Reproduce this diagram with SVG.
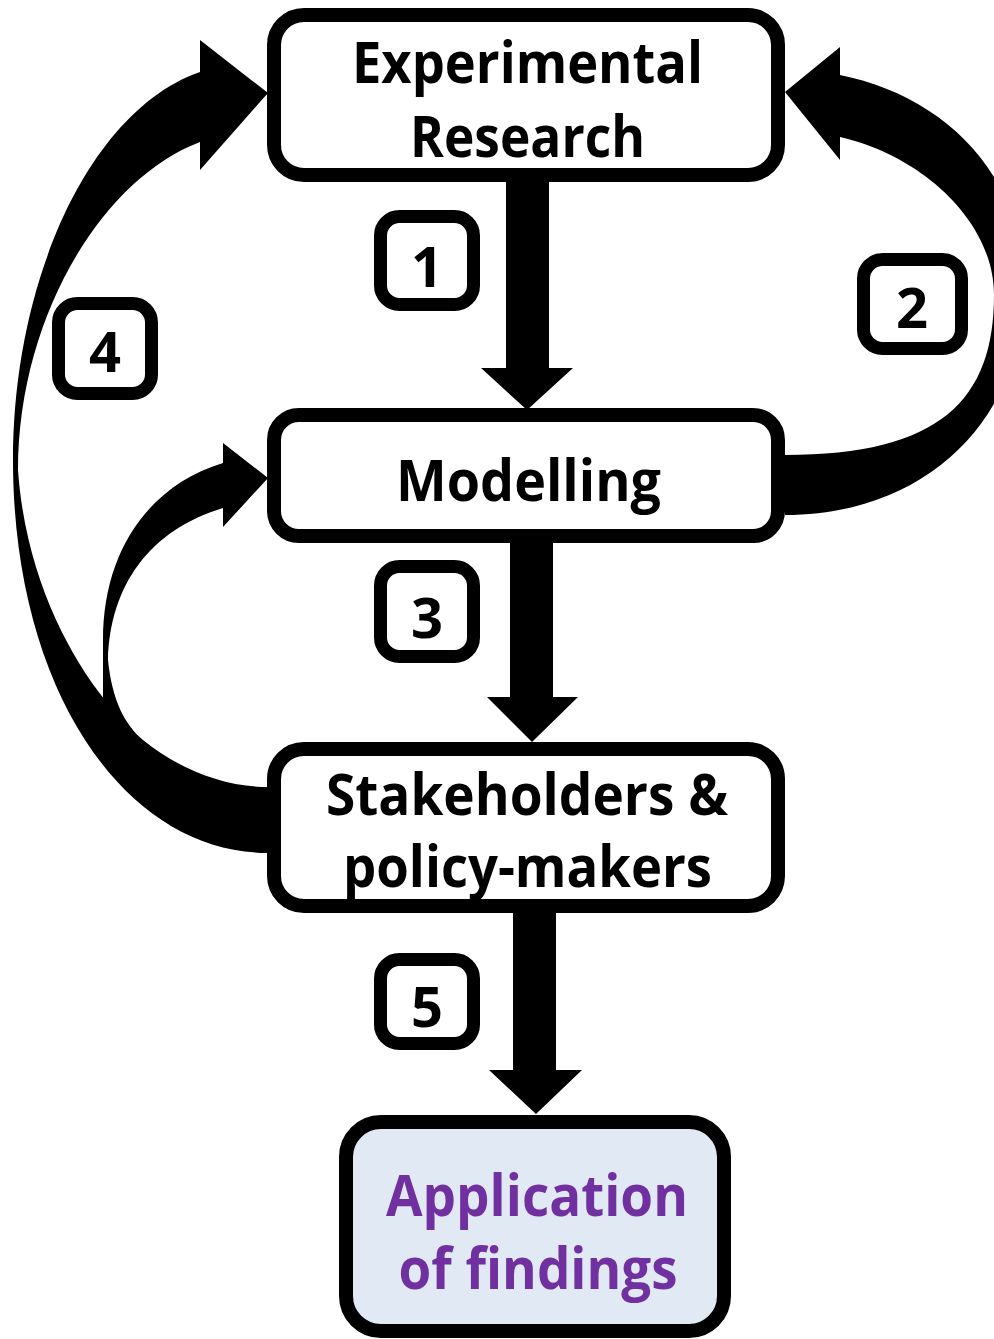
<svg xmlns="http://www.w3.org/2000/svg" width="994" height="1339" viewBox="0 0 994 1339">
<style>
.box{fill:#fff;stroke:#000;stroke-width:14}
.app{fill:#E1E9F4;stroke:#000;stroke-width:14}
.num{fill:#fff;stroke:#000;stroke-width:13}
.lbl{font-family:"Open Sans","Liberation Sans",sans-serif;font-weight:bold;font-size:58px;fill:#000;text-anchor:middle}
.purple{fill:#7030A0}
.digit{font-family:"Open Sans","Liberation Sans",sans-serif;font-weight:bold;font-size:56px;fill:#000;text-anchor:middle}
.arr{fill:#000;stroke:none}
</style>
<rect width="994" height="1339" fill="#fff"/>
<g id="connectors">
  <!-- 1: Experimental -> Modelling -->
  <polygon class="arr" points="506,180 549,180 549,368 573,368 527,410 481,368 506,368"/>
  <!-- 3: Modelling -> Stakeholders -->
  <polygon class="arr" points="510,540 553,540 553,697 578,697 532,742 487,697 510,697"/>
  <!-- 5: Stakeholders -> Application -->
  <polygon class="arr" points="513,910 556,910 556,1070 582,1070 536,1114 489,1070 513,1070"/>
  <!-- 2: Modelling -> Experimental (right curve) -->
  <path class="arr" d="M 840,75 L 840,47 L 785,92 L 840,160 L 840,137 C 920,155 994,220 994,295 C 994,400 940,455 785,455 L 785,515 C 930,515 1024,415 1024,288 C 1024,170 940,95 840,75 Z"/>
  <!-- 4: Stakeholders -> Experimental (left curve) -->
  <path class="arr" d="M 200,72 L 200,40 L 268,93 L 200,170 L 200,142 C 100,180 18,320 18,470 C 25,570 65,650 105,700 L 150,780 L 268,800 L 268,853 C 125,853 13,690 13,460 C 13,280 90,110 200,72 Z"/>
  <!-- Stakeholders -> Modelling (inner left curve) -->
  <path class="arr" d="M 223,463 L 223,443 L 268,478 L 223,527 L 223,508 C 150,530 110,585 108,660 C 112,700 125,725 143,740 C 180,770 225,787 268,787 L 268,830 L 140,800 L 103,700 L 103,640 C 103,550 150,485 223,463 Z"/>
</g>
<g id="node-experimental">
  <rect class="box" x="274" y="15" width="504" height="160" rx="30"/>
  <text class="lbl" x="527.5" y="83" textLength="351" lengthAdjust="spacingAndGlyphs">Experimental</text>
  <text class="lbl" x="527.5" y="157" textLength="235" lengthAdjust="spacingAndGlyphs">Research</text>
</g>
<g id="node-modelling">
  <rect class="box" x="274" y="415" width="504" height="121" rx="25"/>
  <text class="lbl" x="528.5" y="501" textLength="265" lengthAdjust="spacingAndGlyphs">Modelling</text>
</g>
<g id="node-stakeholders">
  <rect class="box" x="274" y="749" width="504" height="157" rx="30"/>
  <text class="lbl" x="527" y="815" textLength="402" lengthAdjust="spacingAndGlyphs">Stakeholders &amp;</text>
  <text class="lbl" x="527.5" y="887" textLength="369" lengthAdjust="spacingAndGlyphs">policy-makers</text>
</g>
<g id="node-application">
  <rect class="app" x="346" y="1122" width="378" height="209" rx="35"/>
  <text class="lbl purple" x="537" y="1216" textLength="302" lengthAdjust="spacingAndGlyphs">Application</text>
  <text class="lbl purple" x="538" y="1289" textLength="279" lengthAdjust="spacingAndGlyphs">of findings</text>
</g>
<g id="label-1">
  <rect class="num" x="380.5" y="216.5" width="93" height="88" rx="19"/>
  <text class="digit" x="427" y="287">1</text>
</g>
<g id="label-2">
  <rect class="num" x="863.5" y="259.5" width="98" height="89" rx="19"/>
  <text class="digit" x="912" y="328">2</text>
</g>
<g id="label-3">
  <rect class="num" x="380.5" y="566.5" width="93" height="90" rx="19"/>
  <text class="digit" x="427" y="638">3</text>
</g>
<g id="label-4">
  <rect class="num" x="58.5" y="303.5" width="93" height="90" rx="19"/>
  <text class="digit" x="105" y="372">4</text>
</g>
<g id="label-5">
  <rect class="num" x="380.5" y="959.5" width="93" height="84" rx="19"/>
  <text class="digit" x="427" y="1027">5</text>
</g>
</svg>
